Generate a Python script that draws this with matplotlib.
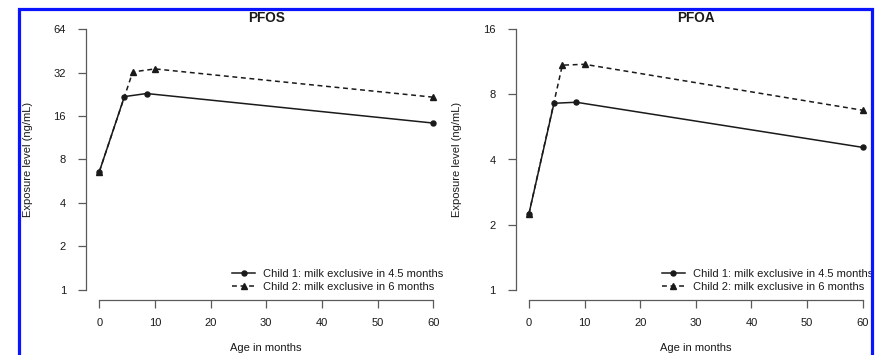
import math
import matplotlib
matplotlib.use("Agg")
import matplotlib.pyplot as plt
from matplotlib.patches import Rectangle

plt.rcParams['font.family'] = ['Liberation Sans', 'DejaVu Sans']

# Ages (months) at which modelled exposure is reported
months_child1 = [0, 4.5, 8.5, 60]
months_child2 = [0, 6, 10, 60]

# PFOS exposure level (ng/mL)
pfos_child1 = [6.6, 21.8, 22.9, 14.3]
pfos_child2 = [6.6, 32.3, 33.9, 21.6]

# PFOA exposure level (ng/mL)
pfoa_child1 = [2.25, 7.27, 7.35, 4.55]
pfoa_child2 = [2.25, 10.9, 11.0, 6.75]

label_child1 = "Child 1: milk exclusive in 4.5 months"
label_child2 = "Child 2: milk exclusive in 6 months"

xticks = [0, 10, 20, 30, 40, 50, 60]
pfos_yticks = [1, 2, 4, 8, 16, 32, 64]
pfoa_yticks = [1, 2, 4, 8, 16]

W, H = 877, 355
AX_H = 281.8
fig = plt.figure(figsize=(W / 100, H / 100), dpi=100)

ink = '#1a1a1a'
axis_col = '#5a5a5a'


def panel(left_px, title, c1, c2, yticks):
    ax = fig.add_axes([left_px / W, (H - 300.4) / H, 360.5 / W, AX_H / H])
    ax.set_yscale('log', base=2)
    ax.plot(months_child1, c1, '-', color=ink, lw=1.1, marker='o', ms=3.6,
            label=label_child1)
    ax.plot(months_child2, c2, '--', color=ink, lw=1.1, marker='^', ms=5,
            dashes=(3.2, 2.4), label=label_child2)
    ax.set_xlim(-2.4, 62.4)
    lo, hi = yticks[0], yticks[-1]
    span = math.log2(hi) - math.log2(lo)
    ax.set_ylim(2 ** (math.log2(lo) - 0.04 * span),
                2 ** (math.log2(hi) + 0.04 * span))
    ax.set_xticks(xticks)
    ax.set_xticklabels([str(t) for t in xticks])
    ax.set_yticks(yticks)
    ax.set_yticklabels([str(t) for t in yticks])
    ax.minorticks_off()
    for s in ('top', 'right'):
        ax.spines[s].set_visible(False)
    ax.spines['left'].set_bounds(lo, hi)
    ax.spines['bottom'].set_bounds(0, 60)
    for s in ('left', 'bottom'):
        ax.spines[s].set_color(axis_col)
        ax.spines[s].set_linewidth(0.9)
    ax.tick_params(axis='both', direction='out', length=5.5, width=0.9,
                   color=axis_col, labelsize=8, labelcolor=ink)
    ax.tick_params(axis='y', pad=9)
    ax.tick_params(axis='x', pad=7)
    ax.set_title(title, fontsize=9.8, fontweight='bold', color=ink,
                 y=1 - 3.6 / AX_H, pad=0)
    ax.set_xlabel("Age in months", fontsize=8, color=ink, labelpad=11)
    ax.set_ylabel("Exposure level (ng/mL)", fontsize=8, color=ink, labelpad=15)
    ax.patch.set_visible(False)
    leg = ax.legend(loc='lower left', bbox_to_anchor=(146 / 360.5, 0.03),
                    frameon=False, fontsize=8, numpoints=1, handlelength=2.1,
                    handletextpad=0.7, labelspacing=0.25, borderpad=0,
                    borderaxespad=0)
    for t in leg.get_texts():
        t.set_color(ink)
    return ax


panel(86, "PFOS", pfos_child1, pfos_child2, pfos_yticks)
panel(515.6, "PFOA", pfoa_child1, pfoa_child2, pfoa_yticks)

# Blue frame around the figure
frame = Rectangle((18.5 / W, -0.05), (872.5 - 18.5) / W, 1.05 - 8.5 / H,
                  transform=fig.transFigure, fill=False, edgecolor='#0a14ff',
                  linewidth=2.3, zorder=10)
fig.patches.append(frame)

fig.savefig("out.png", dpi=100)
